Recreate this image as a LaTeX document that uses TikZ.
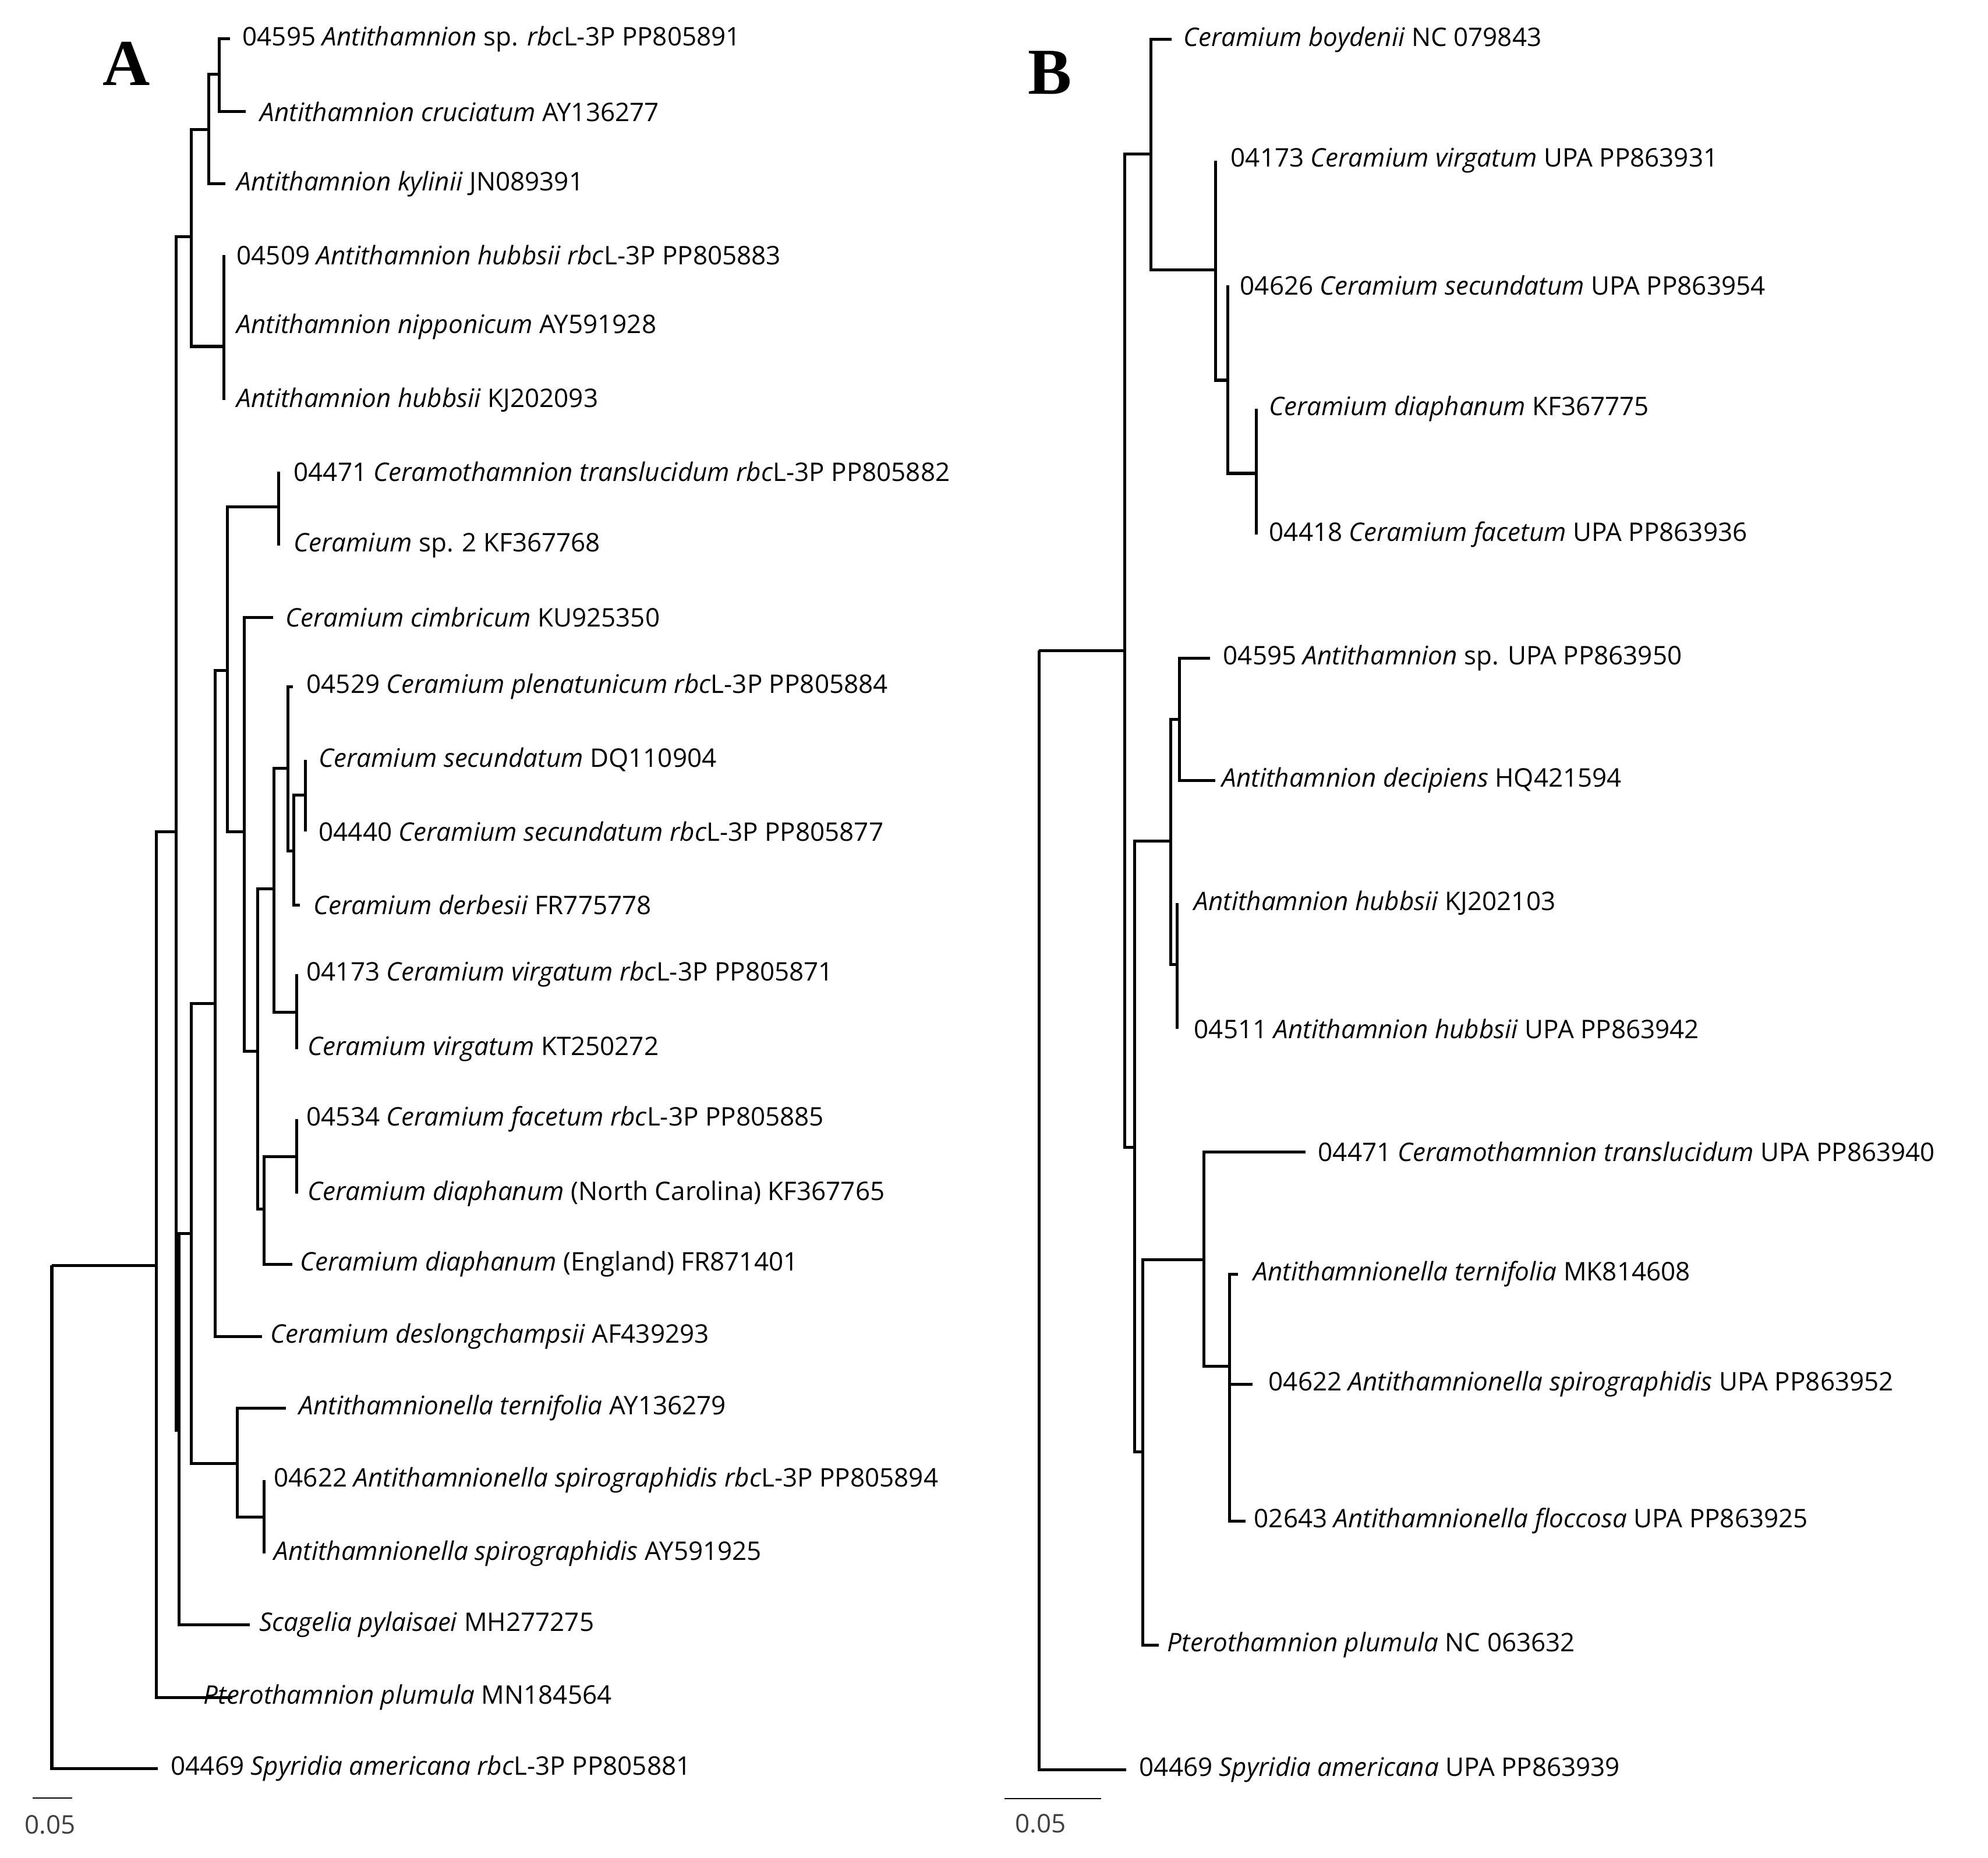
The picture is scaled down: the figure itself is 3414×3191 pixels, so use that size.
\documentclass[tikz,border=0pt]{standalone}
\usepackage{fontspec}
\setmainfont{Open Sans}
\newfontfamily\serifb{Liberation Serif}
\newcommand\tleaf[5]{\coordinate (#1) at (#2,#3); \node[lab] (#1t) at (#4,#3) {#5};}
\begin{document}
\begin{tikzpicture}[x=0.01cm,y=-0.01cm,
  br/.style={line width=0.05cm,line join=miter},
  lab/.style={anchor=west,inner sep=0pt,font=\fontsize{12.5}{14}\selectfont},
  big/.style={font=\serifb\bfseries\fontsize{32}{36}\selectfont,inner sep=0pt},
  sc/.style={line width=0.025cm}]
\useasboundingbox (0,0) rectangle (3414,3191);
\node[big] (LA) at (217,109) {A};
\node[big] (LB) at (1803,125) {B};
% ---------- Tree A
\coordinate (r) at (89,2173);
\coordinate (n268) at (268,2173);
\coordinate (n302) at (302,1428);
\coordinate (nAnt) at (328,407);
\coordinate (nA1) at (358,223);
\coordinate (nA2) at (376,128);
\coordinate (nHub) at (384,595);
\coordinate (n307) at (307,2456);
\coordinate (nC) at (328,2118);
\coordinate (nAtl) at (407,2513);
\coordinate (nSp) at (453,2605);
\coordinate (n369) at (369,1723);
\coordinate (n390) at (390,1151);
\coordinate (nCt) at (478,870);
\coordinate (n419) at (419,1428);
\coordinate (n442) at (442,1805);
\coordinate (n470) at (470,1526);
\coordinate (nVir) at (509,1738);
\coordinate (n494) at (494,1319);
\coordinate (n504) at (504,1461);
\coordinate (nSec) at (524,1365);
\coordinate (n453) at (453,2076);
\coordinate (nFac) at (509,1986);
\tleaf{a1}{395}{67}{416}{04595 \textit{Antithamnion} sp. \textit{rbc}L-3P PP805891}
\tleaf{a2}{422}{192}{446}{\textit{Antithamnion cruciatum} AY136277}
\tleaf{a3}{387}{316}{406}{\textit{Antithamnion kylinii} JN089391}
\tleaf{a4}{384}{438}{406}{04509 \textit{Antithamnion hubbsii rbc}L-3P PP805883}
\tleaf{a5}{384}{561}{406}{\textit{Antithamnion nipponicum} AY591928}
\tleaf{a6}{384}{687}{406}{\textit{Antithamnion hubbsii} KJ202093}
\tleaf{a7}{478}{810}{504}{04471 \textit{Ceramothamnion translucidum rbc}L-3P PP805882}
\tleaf{a8}{478}{937}{504}{\textit{Ceramium} sp. 2 KF367768}
\tleaf{a9}{469}{1060}{490}{\textit{Ceramium cimbricum} KU925350}
\tleaf{a10}{503}{1179}{526}{04529 \textit{Ceramium plenatunicum rbc}L-3P PP805884}
\tleaf{a11}{524}{1305}{547}{\textit{Ceramium secundatum} DQ110904}
\tleaf{a12}{524}{1428}{547}{04440 \textit{Ceramium secundatum rbc}L-3P PP805877}
\tleaf{a13}{515}{1554}{538}{\textit{Ceramium derbesii} FR775778}
\tleaf{a14}{509}{1673}{526}{04173 \textit{Ceramium virgatum rbc}L-3P PP805871}
\tleaf{a15}{509}{1802}{528}{\textit{Ceramium virgatum} KT250272}
\tleaf{a16}{509}{1922}{526}{04534 \textit{Ceramium facetum rbc}L-3P PP805885}
\tleaf{a17}{509}{2050}{528}{\textit{Ceramium diaphanum} (North Carolina) KF367765}
\tleaf{a18}{502}{2171}{515}{\textit{Ceramium diaphanum} (England) FR871401}
\tleaf{a19}{450}{2295}{464}{\textit{Ceramium deslongchampsii} AF439293}
\tleaf{a20}{491}{2418}{513}{\textit{Antithamnionella ternifolia} AY136279}
\tleaf{a21}{453}{2542}{470}{04622 \textit{Antithamnionella spirographidis rbc}L-3P PP805894}
\tleaf{a22}{453}{2668}{470}{\textit{Antithamnionella spirographidis} AY591925}
\tleaf{a23}{429}{2790}{445}{\textit{Scagelia pylaisaei} MH277275}
\tleaf{a24}{399}{2915}{349}{\textit{Pterothamnion plumula} MN184564}
\tleaf{a25}{271}{3037}{293}{04469 \textit{Spyridia americana rbc}L-3P PP805881}
\foreach \p/\c in {r/n268,r/a25,n268/n302,n268/a24,n302/nAnt,n302/n307,
  nAnt/nA1,nAnt/nHub,nA1/nA2,nA1/a3,nA2/a1,nA2/a2,nHub/a4,nHub/a5,nHub/a6,
  n307/nC,n307/a23,nC/n369,nC/nAtl,nAtl/a20,nAtl/nSp,nSp/a21,nSp/a22,
  n369/n390,n369/a19,n390/nCt,n390/n419,nCt/a7,nCt/a8,n419/a9,n419/n442,
  n442/n470,n442/n453,n470/n494,n470/nVir,nVir/a14,nVir/a15,n494/a10,n494/n504,
  n504/nSec,n504/a13,nSec/a11,nSec/a12,n453/nFac,n453/a18,nFac/a16,nFac/a17}
  \draw[br] (\p) |- (\c);
\coordinate (sa1) at (56,3088); \coordinate (sa2) at (124,3088);
\draw[sc] (sa1) -- (sa2);
\node[lab,anchor=center,text=black!75] (sat) at (86,3134) {0.05};
% ---------- Tree B
\coordinate (R) at (1784,1117);
\coordinate (m1931) at (1931,1117);
\coordinate (mCer) at (1976,265);
\coordinate (m2087) at (2087,464);
\coordinate (m2108) at (2108,653);
\coordinate (m2157) at (2157,813);
\coordinate (m1948) at (1948,1970);
\coordinate (m2010) at (2010,1444);
\coordinate (m2025) at (2025,1235);
\coordinate (mHub) at (2021,1656);
\coordinate (m1962) at (1962,2493);
\coordinate (m2067) at (2067,2163);
\coordinate (m2111) at (2111,2346);
\tleaf{b1}{2012}{68}{2032}{\textit{Ceramium boydenii} NC 079843}
\tleaf{b2}{2087}{276}{2113}{04173 \textit{Ceramium virgatum} UPA PP863931}
\tleaf{b3}{2108}{490}{2129}{04626 \textit{Ceramium secundatum} UPA PP863954}
\tleaf{b4}{2157}{702}{2179}{\textit{Ceramium diaphanum} KF367775}
\tleaf{b5}{2157}{918}{2179}{04418 \textit{Ceramium facetum} UPA PP863936}
\tleaf{b6}{2078}{1130}{2100}{04595 \textit{Antithamnion} sp. UPA PP863950}
\tleaf{b7}{2087}{1340}{2098}{\textit{Antithamnion decipiens} HQ421594}
\tleaf{b8}{2021}{1551}{2050}{\textit{Antithamnion hubbsii} KJ202103}
\tleaf{b9}{2021}{1767}{2050}{04511 \textit{Antithamnion hubbsii} UPA PP863942}
\tleaf{b10}{2242}{1978}{2263}{04471 \textit{Ceramothamnion translucidum} UPA PP863940}
\tleaf{b11}{2126}{2188}{2152}{\textit{Antithamnionella ternifolia} MK814608}
\tleaf{b12}{2151}{2377}{2178}{04622 \textit{Antithamnionella spirographidis} UPA PP863952}
\tleaf{b13}{2139}{2612}{2153}{02643 \textit{Antithamnionella floccosa} UPA PP863925}
\tleaf{b14}{1990}{2825}{2004}{\textit{Pterothamnion plumula} NC 063632}
\tleaf{b15}{1934}{3039}{1956}{04469 \textit{Spyridia americana} UPA PP863939}
\foreach \p/\c in {R/m1931,R/b15,m1931/mCer,m1931/m1948,mCer/b1,mCer/m2087,
  m2087/b2,m2087/m2108,m2108/b3,m2108/m2157,m2157/b4,m2157/b5,
  m1948/m2010,m1948/m1962,m2010/m2025,m2010/mHub,m2025/b6,m2025/b7,mHub/b8,mHub/b9,
  m1962/m2067,m1962/b14,m2067/b10,m2067/m2111,m2111/b11,m2111/b12,m2111/b13}
  \draw[br] (\p) |- (\c);
\coordinate (sb1) at (1725,3089); \coordinate (sb2) at (1891,3089);
\draw[sc] (sb1) -- (sb2);
\node[lab,anchor=center,text=black!75] (sbt) at (1787,3132) {0.05};
\end{tikzpicture}
\end{document}
